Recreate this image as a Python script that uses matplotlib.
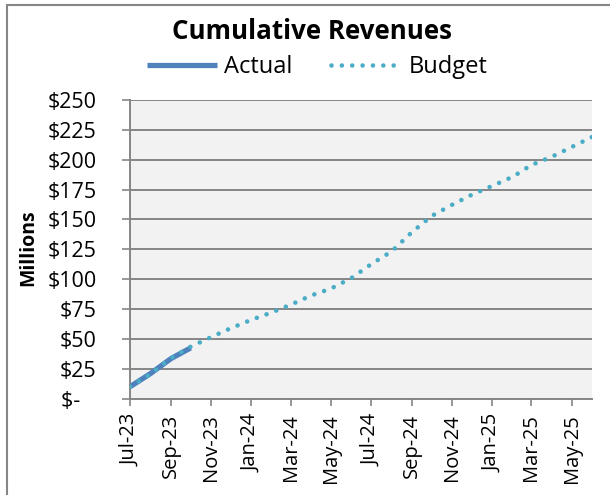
import datetime as dt

import matplotlib
matplotlib.use("Agg")
import matplotlib.dates as mdates
import matplotlib.pyplot as plt
from matplotlib.patches import Rectangle
from matplotlib.ticker import FuncFormatter, MultipleLocator

# ── Datos (millones, acumulado mensual) ──────────────────────────────
meses = [dt.date(2023 + (6 + i) // 12, (6 + i) % 12 + 1, 1) for i in range(24)]

presupuesto = [10, 20.5, 34, 43.5, 51.5, 59, 66, 72.2, 78.7, 86.4, 92.2, 101,
               112.6, 123.3, 139.5, 153, 162.4, 170.8, 178.2, 185.8, 195.6,
               202.5, 210.6, 219]
real = [10, 21, 33.5, 42.5]

C_REAL = "#4F81BD"
C_PRES = "#4BACC6"
GRIS = "#868686"

plt.rcParams["font.family"] = ["Open Sans", "DejaVu Sans"]

fig = plt.figure(figsize=(6.10, 4.95), dpi=100)
ax = fig.add_axes([130 / 610, 1 - 398.7 / 495, 462 / 610, 298.7 / 495])
ax.set_facecolor("#F2F2F2")

ax.plot(meses[:len(real)], real, color=C_REAL, lw=3.8, solid_capstyle="butt",
        zorder=3, label="Actual")
ax.plot(meses, presupuesto, color=C_PRES, lw=3.3, ls=(0, (0.01, 2.25)),
        dash_capstyle="round", zorder=4, label="Budget")

ax.set_ylim(0, 250)
ax.set_xlim(meses[0], meses[-1])
ax.yaxis.set_major_locator(MultipleLocator(25))
ax.yaxis.set_major_formatter(
    FuncFormatter(lambda v, _: "$-   " if v == 0 else f"${v:.0f}"))
ax.grid(axis="y", color=GRIS, lw=1.4)
ax.set_axisbelow(True)

ax.xaxis.set_major_locator(mdates.MonthLocator(bymonth=[1, 3, 5, 7, 9, 11]))
ax.xaxis.set_major_formatter(mdates.DateFormatter("%b-%y"))
plt.setp(ax.get_xticklabels(), rotation=90, ha="center", va="top")

for lado in ("top", "right"):
    ax.spines[lado].set_visible(False)
for lado in ("left", "bottom"):
    ax.spines[lado].set_color(GRIS)
    ax.spines[lado].set_linewidth(1.4)

ax.tick_params(axis="y", direction="out", length=6, width=1.2, color=GRIS,
               labelsize=15.5, pad=18)
ax.tick_params(axis="x", direction="out", length=5, width=1.2, color=GRIS,
               labelsize=14.5, pad=6)

ax.set_ylabel("Millions", fontsize=14, fontweight="bold")
ax.yaxis.set_label_coords(38 / 610, 0.5, transform=fig.transFigure)

fig.text(312 / 610, 1 - 39 / 495, "Cumulative Revenues", ha="center",
         va="baseline", fontsize=18.6, fontweight="bold")
fig.legend(loc="center", bbox_to_anchor=(317 / 610, 1 - 67 / 495), ncol=2,
           frameon=False, fontsize=17, handlelength=3.0, handletextpad=0.3,
           columnspacing=1.6, borderpad=0, borderaxespad=0)

fig.add_artist(Rectangle((7 / 610, -0.1), 2, 1 - 5 / 495 + 0.1,
                         transform=fig.transFigure, fill=False, ec=GRIS,
                         lw=1.5))

fig.savefig("out.png", dpi=100)
